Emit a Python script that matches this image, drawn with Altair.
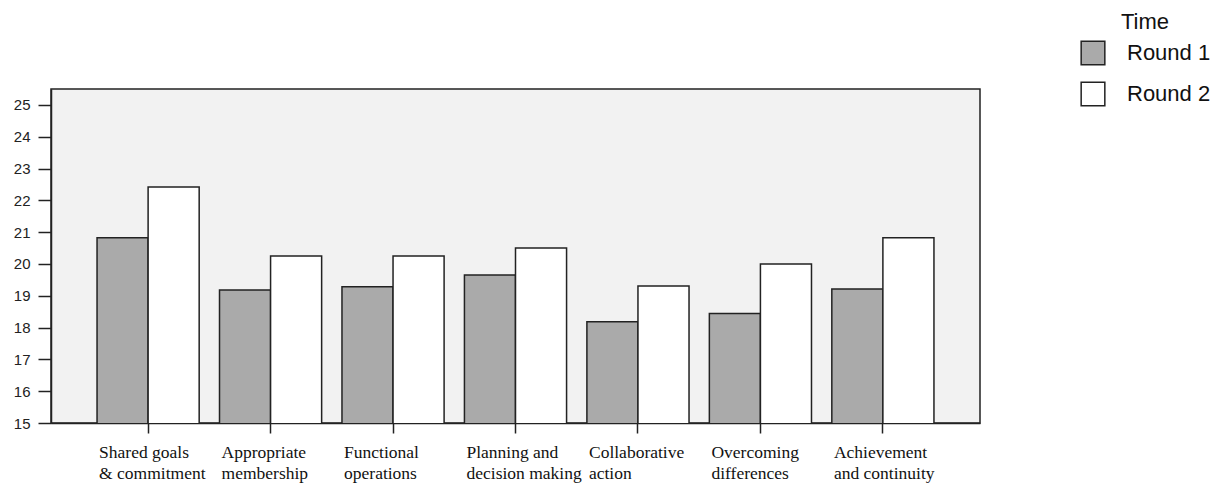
import altair as alt
import pandas as pd

categories = [
    "Shared goals\n& commitment",
    "Appropriate\nmembership",
    "Functional\noperations",
    "Planning and\ndecision making",
    "Collaborative\naction",
    "Overcoming\ndifferences",
    "Achievement\nand continuity",
]
round1 = [20.82, 19.18, 19.28, 19.65, 18.18, 18.44, 19.21]
round2 = [22.42, 20.25, 20.25, 20.50, 19.31, 20.00, 20.82]
series = ["Round 1", "Round 2"]
y_ticks = list(range(15, 26))

rows = []
for c, a, b in zip(categories, round1, round2):
    rows.append({"cat": c, "Time": series[0], "value": a})
    rows.append({"cat": c, "Time": series[1], "value": b})
df = pd.DataFrame(rows)

bars = alt.Chart(df).mark_bar(
    stroke="#222222", strokeWidth=1.5, clip=True
).encode(
    x=alt.X(
        "cat:N",
        sort=categories,
        title=None,
        scale=alt.Scale(paddingInner=0.166, paddingOuter=0.376),
        axis=alt.Axis(
            labelExpr="split(datum.label, '\\n')",
            labelAngle=0,
            labelAlign="left",
            labelOffset=-49,
            labelBaseline="top",
            labelFont="Liberation Serif",
            labelFontSize=17.5,
            labelLineHeight=21,
            labelColor="#111111",
            labelPadding=10,
            tickSize=10,
            tickColor="#222222",
            tickWidth=1.5,
            domainColor="#222222",
            domainWidth=1.5,
            grid=False,
        ),
    ),
    xOffset=alt.XOffset(
        "Time:N", sort=series, scale=alt.Scale(paddingInner=0, paddingOuter=0)
    ),
    y=alt.Y(
        "value:Q",
        title=None,
        scale=alt.Scale(domain=[15, 25.5], nice=False, zero=False),
        axis=alt.Axis(
            values=y_ticks,
            labelFont="Liberation Sans",
            labelFontSize=15,
            labelColor="#222222",
            labelPadding=8,
            tickSize=13,
            tickColor="#222222",
            tickWidth=1.5,
            domainColor="#222222",
            domainWidth=1.5,
            grid=False,
        ),
    ),
    fill=alt.Fill(
        "Time:N",
        sort=series,
        scale=alt.Scale(domain=series, range=["#aaaaaa", "#ffffff"]),
        legend=alt.Legend(
            orient="none",
            legendX=1029,
            legendY=-77,
            title="Time",
            titleFont="Liberation Sans",
            titleFontSize=22,
            titleFontWeight="normal",
            titleColor="#111111",
            titleAnchor="middle",
            titlePadding=6,
            labelFont="Liberation Sans",
            labelFontSize=22,
            labelColor="#111111",
            labelOffset=21,
            symbolType="square",
            symbolSize=560,
            symbolStrokeColor="#222222",
            symbolStrokeWidth=1.5,
            rowPadding=11,
            padding=0,
        ),
    ),
).properties(
    width=929,
    height=334,
    background="white",
    autosize=alt.AutoSizeParams(type="none"),
    padding={"left": 43, "top": 81, "right": 230, "bottom": 62},
).configure_view(
    fill="#f2f2f2", stroke="#222222", strokeWidth=1.5
)

chart = bars
chart.save("out.html", embed_options={"renderer": "svg", "actions": False})
